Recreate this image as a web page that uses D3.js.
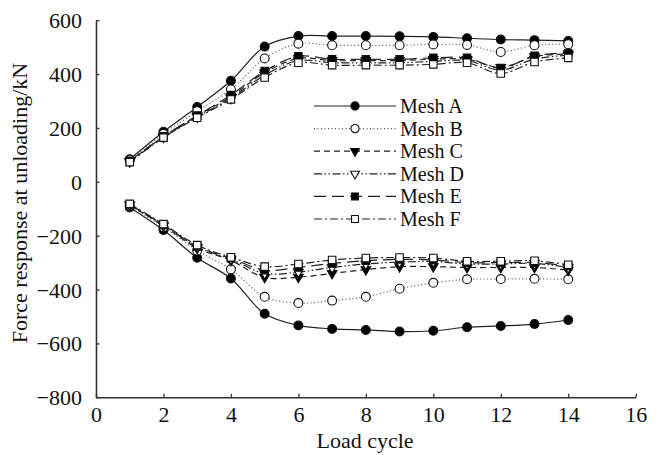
<!DOCTYPE html>
<html>
<head>
<meta charset="utf-8">
<script src="https://cdn.jsdelivr.net/npm/d3@7"></script>
<style>
  html, body { margin: 0; padding: 0; background: #fff; }
  svg { display: block; }
  text { font-family: "Liberation Serif", "DejaVu Serif", serif; fill: #111; }
</style>
</head>
<body>
<svg id="chart" width="661" height="455"></svg>
<script>
// Load cycles (x values)
const cycles = [1, 2, 3, 4, 5, 6, 7, 8, 9, 10, 11, 12, 13, 14];

// Force at unloading, positive (tension) branch, kN
const meshAUpper = [84, 186, 278, 375, 502, 541, 541, 541, 540, 538, 533, 528, 526, 523];
const meshBUpper = [80, 178, 262, 343, 458, 513, 507, 507, 507, 510, 508, 482, 507, 511];
const meshCUpper = [76, 168, 245, 316, 405, 458, 450, 450, 450, 455, 455, 425, 465, 475];
const meshDUpper = [75, 166, 241, 310, 396, 450, 442, 442, 442, 447, 450, 415, 456, 470];
const meshEUpper = [77, 169, 246, 322, 411, 466, 455, 455, 455, 460, 460, 422, 468, 478];
const meshFUpper = [73, 164, 238, 306, 387, 442, 433, 433, 433, 436, 442, 402, 445, 460];

// Force at unloading, negative (compression) branch, kN
const meshALower = [-95, -179, -282, -359, -490, -533, -546, -550, -556, -553, -540, -535, -528, -513];
const meshBLower = [-89, -168, -255, -325, -427, -450, -441, -427, -397, -375, -362, -361, -360, -362];
const meshCLower = [-86, -163, -246, -292, -355, -354, -340, -326, -315, -315, -318, -318, -318, -328];
const meshDLower = [-85, -161, -242, -287, -340, -335, -318, -305, -298, -296, -305, -305, -303, -318];
const meshELower = [-84, -160, -240, -284, -328, -318, -303, -293, -288, -290, -300, -300, -300, -312];
const meshFLower = [-82, -157, -235, -280, -315, -305, -290, -283, -281, -283, -295, -295, -293, -308];

// Axis ticks
const xTicks = [0, 2, 4, 6, 8, 10, 12, 14, 16];
const yTicks = [-800, -600, -400, -200, 0, 200, 400, 600];

const meshNames = ["Mesh A", "Mesh B", "Mesh C", "Mesh D", "Mesh E", "Mesh F"];

const series = [
  { name: meshNames[0], upper: meshAUpper, lower: meshALower, dash: null,            symbol: d3.symbolCircle,   size: 62, fill: "#000", rotate: 0 },
  { name: meshNames[1], upper: meshBUpper, lower: meshBLower, dash: "1,2.5",         symbol: d3.symbolCircle,   size: 62, fill: "#fff", rotate: 0 },
  { name: meshNames[2], upper: meshCUpper, lower: meshCLower, dash: "6,4",           symbol: d3.symbolTriangle, size: 40, fill: "#000", rotate: 180 },
  { name: meshNames[3], upper: meshDUpper, lower: meshDLower, dash: "8,2.5,1.5,2.5,1.5,2.5", symbol: d3.symbolTriangle, size: 40, fill: "#fff", rotate: 180 },
  { name: meshNames[4], upper: meshEUpper, lower: meshELower, dash: "12,6",          symbol: d3.symbolSquare,   size: 56, fill: "#000", rotate: 0 },
  { name: meshNames[5], upper: meshFUpper, lower: meshFLower, dash: "8,3,2,3",       symbol: d3.symbolSquare,   size: 56, fill: "#fff", rotate: 0 }
];

const svg = d3.select("#chart");
const x = d3.scaleLinear().domain([0, 16]).range([96, 635.7]);
const y = d3.scaleLinear().domain([-800, 600]).range([397.3, 20.2]);

const axisColor = "#333";

// Axes: ticks point into the plot area
const xAxis = svg.append("g")
  .attr("transform", `translate(0,${y(-800)})`)
  .call(d3.axisBottom(x).tickValues(xTicks).tickSize(-3.5).tickPadding(7).tickSizeOuter(0));
const yAxis = svg.append("g")
  .attr("transform", `translate(${x(0)},0)`)
  .call(d3.axisLeft(y).tickValues(yTicks).tickSize(-3.5).tickPadding(14).tickSizeOuter(0)
    .tickFormat(d => d < 0 ? "\u2212" + Math.abs(d) : String(d)));

[xAxis, yAxis].forEach(g => {
  g.select(".domain").attr("stroke", axisColor).attr("stroke-width", 1.6);
  g.selectAll(".tick line").attr("stroke", axisColor).attr("stroke-width", 1.3);
  g.selectAll(".tick text")
    .attr("font-family", "Liberation Serif, serif")
    .attr("font-size", 22)
    .attr("fill", "#111");
});
xAxis.selectAll(".tick text").attr("dy", "0.8em");
yAxis.selectAll(".tick text").attr("dy", "0.34em");

// Axis titles
svg.append("text")
  .attr("x", 365).attr("y", 448)
  .attr("text-anchor", "middle")
  .attr("font-size", 22)
  .text("Load cycle");
svg.append("text")
  .attr("transform", "translate(27,203) rotate(-90)")
  .attr("text-anchor", "middle")
  .attr("font-size", 22)
  .text("Force response at unloading/kN");

const line = d3.line()
  .x((d, i) => x(cycles[i]))
  .y(d => y(d))
  .curve(d3.curveCatmullRom.alpha(0.5));

const plot = svg.append("g");

// Lines first, then markers on top
series.forEach(s => {
  [s.upper, s.lower].forEach(vals => {
    plot.append("path")
      .datum(vals)
      .attr("d", line)
      .attr("fill", "none")
      .attr("stroke", s.name === "Mesh B" ? "#555" : "#222")
      .attr("stroke-width", 1.2)
      .attr("stroke-dasharray", s.dash);
  });
});

series.forEach(s => {
  const sym = d3.symbol().type(s.symbol).size(s.size);
  [s.upper, s.lower].forEach(vals => {
    plot.append("g").selectAll("path")
      .data(vals)
      .join("path")
      .attr("d", sym)
      .attr("transform", (d, i) => `translate(${x(cycles[i])},${y(d)}) rotate(${s.rotate})`)
      .attr("fill", s.fill)
      .attr("stroke", "#111")
      .attr("stroke-width", 1.1);
  });
});

// Legend
const legend = svg.append("g");
series.forEach((s, i) => {
  const ly = 106 + i * 22.6;
  legend.append("line")
    .attr("x1", 314).attr("x2", 396)
    .attr("y1", ly).attr("y2", ly)
    .attr("stroke", s.name === "Mesh B" ? "#555" : "#222")
    .attr("stroke-width", 1.2)
    .attr("stroke-dasharray", s.dash);
  legend.append("path")
    .attr("d", d3.symbol().type(s.symbol).size(s.size * 0.85)())
    .attr("transform", `translate(355,${ly}) rotate(${s.rotate})`)
    .attr("fill", s.fill)
    .attr("stroke", "#111")
    .attr("stroke-width", 1.1);
  legend.append("text")
    .attr("x", 400).attr("y", ly)
    .attr("dy", "0.35em")
    .attr("font-size", 20)
    .text(s.name);
});
</script>
</body>
</html>
